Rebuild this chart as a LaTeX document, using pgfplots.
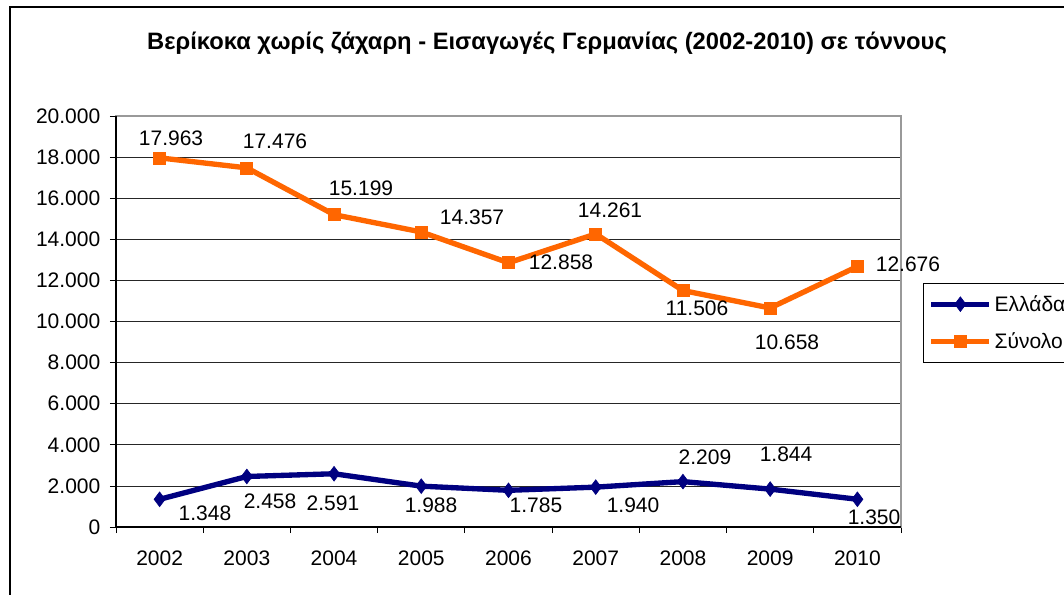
\documentclass[border=0pt]{standalone}
\usepackage{pgfplots}
\pgfplotsset{compat=1.18}
\usepackage{fontspec}
\setmainfont{Liberation Sans}
\definecolor{navyc}{RGB}{0,0,128}
\definecolor{orangec}{RGB}{255,102,0}
\newcommand\lbl{\fontsize{15.75}{18}\selectfont}
\begin{document}
\begin{tikzpicture}[x=0.75pt,y=0.75pt]
\useasboundingbox (0,0) rectangle (1064,594);
\clip (0,0) rectangle (1064,594);
\fill[white] (0,0) rectangle (1064,594);
\draw[black, line width=0.9pt] (10,-20) -- (10,587) -- (1100,587);
\node[font=\bfseries\fontsize{17.8}{20}\selectfont] at (547,551) {Βερίκοκα χωρίς ζάχαρη - Εισαγωγές Γερμανίας (2002-2010) σε τόννους};
\begin{axis}[
  at={(87pt,50.25pt)}, anchor=south west,
  scale only axis, width=588.75pt, height=308.25pt,
  xmin=0, xmax=9, ymin=0, ymax=20000,
  xtick={0,1,2,3,4,5,6,7,8,9},
  x tick label as interval,
  xticklabels={2002,2003,2004,2005,2006,2007,2008,2009,2010},
  ytick={0,2000,4000,6000,8000,10000,12000,14000,16000,18000,20000},
  scaled y ticks=false,
  /pgf/number format/.cd, 1000 sep={.}, assume math mode=true, /pgfplots/.cd,
  ymajorgrids, grid style={black!85, line width=0.6pt},
  tick align=outside, major tick length=4.5pt,
  tick style={black, line width=0.6pt},
  xtick pos=bottom, ytick pos=left,
  axis line style={gray!80, line width=0.9pt},
  ticklabel style={font=\lbl},
  xticklabel style={yshift=-9.75pt},
  yticklabel style={xshift=-3.75pt},
  clip=false,
  legend style={at={(1.028,0.594)}, anchor=north west, draw=black, line width=0.6pt,
    fill=white, font=\lbl, row sep=10.5pt, inner xsep=4pt, inner ysep=7pt},
  legend cell align=left,
  legend image code/.code={\draw[mark repeat=2,mark phase=2] plot coordinates {(0pt,0pt) (21.75pt,0pt) (43.5pt,0pt)};},
]
\addplot[navyc, line width=4pt, mark=diamond*, mark size=5.5pt, mark options={solid, line width=0.5pt}]
  coordinates {(0.5,1348) (1.5,2458) (2.5,2591) (3.5,1988) (4.5,1785) (5.5,1940) (6.5,2209) (7.5,1844) (8.5,1350)};
\addlegendentry{Ελλάδα}
\addplot[orangec, line width=4pt, mark=square*, mark size=4.5pt, mark options={solid, line width=0.5pt}]
  coordinates {(0.5,17963) (1.5,17476) (2.5,15199) (3.5,14357) (4.5,12858) (5.5,14261) (6.5,11506) (7.5,10658) (8.5,12676)};
\addlegendentry{Σύνολο}
\draw[black, line width=0.9pt] (rel axis cs:0,1) -- (rel axis cs:0,0) -- (rel axis cs:1,0);
\begin{scope}[every node/.style={font=\lbl, inner sep=0pt}]
\node at (axis cs:0.631,18929) {17.963};
\node at (axis cs:1.823,18783) {17.476};
\node at (axis cs:2.809,16496) {15.199};
\node at (axis cs:4.082,15085) {14.357};
\node at (axis cs:5.102,12895) {12.858};
\node at (axis cs:5.664,15426) {14.261};
\node at (axis cs:6.661,10657) {11.506};
\node at (axis cs:7.693,9002) {10.658};
\node at (axis cs:9.080,12798) {12.676};
\node at (axis cs:1.020,681) {1.348};
\node at (axis cs:1.766,1265) {2.458};
\node at (axis cs:2.488,1168) {2.591};
\node at (axis cs:3.612,1071) {1.988};
\node at (axis cs:4.815,1071) {1.785};
\node at (axis cs:5.928,1071) {1.940};
\node at (axis cs:6.753,3406) {2.209};
\node at (axis cs:7.682,3552) {1.844};
\node at (axis cs:8.691,487) {1.350};
\end{scope}
\end{axis}
\end{tikzpicture}
\end{document}
